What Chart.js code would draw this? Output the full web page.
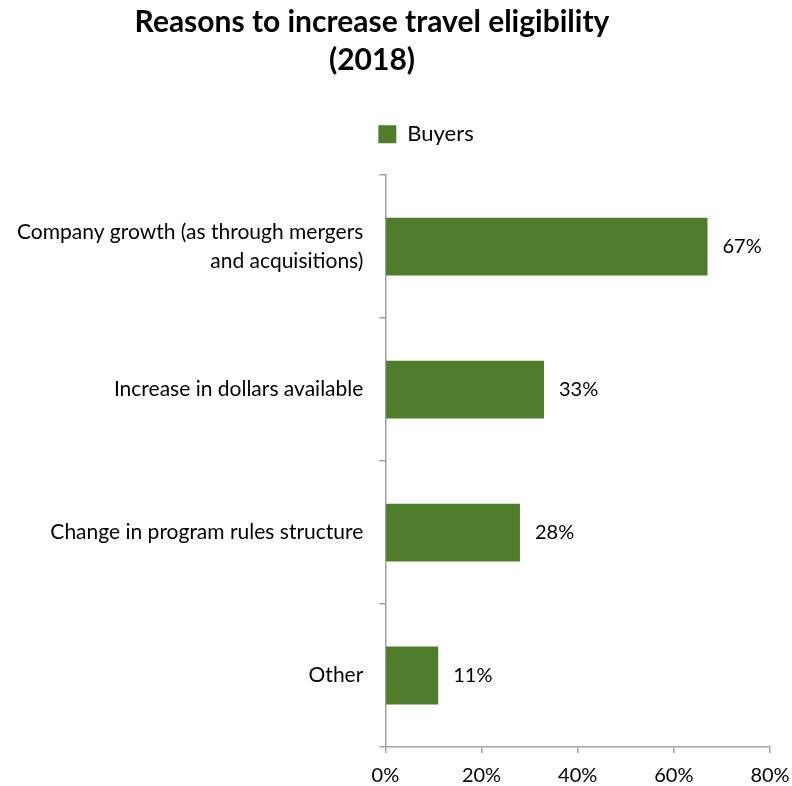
<!DOCTYPE html>
<html lang="en">
<head>
    <meta charset="UTF-8">
    <title>Reasons to increase travel eligibility (2018)</title>
    <script src="https://cdn.jsdelivr.net/npm/chart.js"></script>
    <style>
        body {
            margin: 0;
            background: white;
        }

        .chart-box {
            position: relative;
            width: 792px;
            height: 786px;
        }
    </style>
</head>
<body>
    <div class="chart-box">
        <canvas id="reasonsChart"></canvas>
    </div>

    <script>
        const categories = [
            ['Company growth (as through mergers', 'and acquisitions)'],
            'Increase in dollars available',
            'Change in program rules structure',
            'Other'
        ];
        const buyers = [67, 33, 28, 11];
        const xTicks = [0, 20, 40, 60, 80];

        const FONT = 'Lato, "Open Sans", sans-serif';
        const GREEN = '#507d2c';
        const AXIS = '#a0a0a0';

        // value labels to the right of each bar
        const barLabels = {
            id: 'barLabels',
            afterDatasetsDraw(chart) {
                const ctx = chart.ctx;
                ctx.save();
                ctx.font = '20px ' + FONT;
                ctx.fillStyle = '#000';
                ctx.textAlign = 'left';
                ctx.textBaseline = 'middle';
                chart.getDatasetMeta(0).data.forEach((bar, i) => {
                    ctx.fillText(buyers[i] + '%', bar.x + 15, bar.y);
                });
                ctx.restore();
            }
        };

        // title and legend sit a little off the canvas centre,
        // and the legend keeps a wider gap above the plot
        const shiftBoxes = {
            id: 'shiftBoxes',
            afterLayout(chart) {
                chart.titleBlock.left -= 24;
                chart.titleBlock.right -= 24;
                chart.legend.left += 30;
                chart.legend.right += 30;
                chart.legend.top -= 20;
                chart.legend.bottom -= 20;
            }
        };

        new Chart(document.getElementById('reasonsChart'), {
            type: 'bar',
            data: {
                labels: categories,
                datasets: [{
                    label: 'Buyers',
                    data: buyers,
                    backgroundColor: GREEN,
                    barPercentage: 0.405,
                    categoryPercentage: 1
                }]
            },
            options: {
                indexAxis: 'y',
                responsive: true,
                maintainAspectRatio: false,
                animation: false,
                layout: {
                    padding: { left: 1, right: 1, top: 3, bottom: 0 }
                },
                scales: {
                    x: {
                        min: 0,
                        max: 80,
                        afterBuildTicks(axis) {
                            axis.ticks = xTicks.map(v => ({ value: v }));
                        },
                        afterFit(axis) {
                            axis.height = 39;
                            axis.paddingRight = 22;
                        },
                        border: { color: AXIS, width: 1.5 },
                        grid: {
                            drawOnChartArea: false,
                            drawTicks: true,
                            tickLength: 6,
                            color: AXIS,
                            lineWidth: 1.5
                        },
                        ticks: {
                            color: '#000',
                            font: { family: FONT, size: 20, lineHeight: 1 },
                            padding: 13,
                            maxRotation: 0,
                            callback: v => v + '%'
                        }
                    },
                    y: {
                        // the two-line label would otherwise reserve space below the plot
                        afterFit(axis) {
                            axis.paddingTop = 0;
                            axis.paddingBottom = 0;
                        },
                        border: { color: AXIS, width: 1.5 },
                        grid: {
                            drawOnChartArea: false,
                            drawTicks: true,
                            tickLength: 6,
                            color: AXIS,
                            lineWidth: 1.5
                        },
                        ticks: {
                            color: '#000',
                            font: { family: FONT, size: 21, lineHeight: 1.38 },
                            padding: 16
                        }
                    }
                },
                plugins: {
                    title: {
                        display: true,
                        text: ['Reasons to increase travel eligibility', '(2018)'],
                        color: '#000',
                        font: { family: FONT, size: 30, weight: 'bold', lineHeight: 1.27 },
                        padding: { top: 0, bottom: 8 }
                    },
                    legend: {
                        display: true,
                        labels: {
                            color: '#000',
                            font: { family: FONT, size: 22 },
                            boxWidth: 18,
                            boxHeight: 18,
                            padding: 56
                        }
                    },
                    tooltip: { enabled: false }
                }
            },
            plugins: [barLabels, shiftBoxes]
        });
    </script>
</body>
</html>
